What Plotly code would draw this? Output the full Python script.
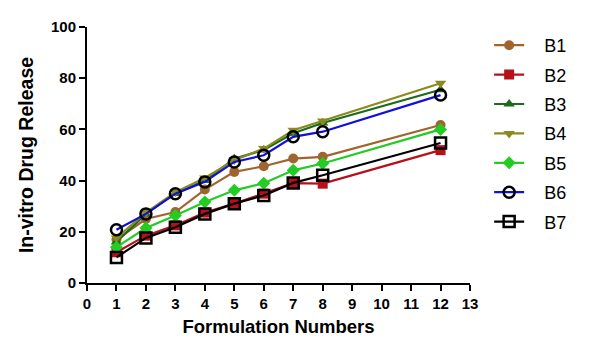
import plotly.graph_objects as go

x = [1, 2, 3, 4, 5, 6, 7, 8, 12]
B1 = [17, 25, 27.7, 36.5, 43.4, 45.6, 48.6, 49.3, 61.7]
B2 = [12, 18.5, 22.5, 27.5, 31, 34.9, 39, 38.8, 51.9]
B3 = [16, 27, 35, 40, 48.5, 52, 58.5, 62.5, 75.5]
B4 = [17.6, 27.5, 35.5, 41, 48, 52.5, 59.7, 63.3, 78]
B5 = [14, 21.5, 26.4, 31.6, 36.2, 39, 44, 46.7, 60]
B6 = [20.8, 27, 34.9, 39.5, 47.3, 49.9, 57.1, 59.1, 73.4]
B7 = [10, 17.6, 21.8, 27, 31, 34.2, 39.1, 42.1, 54.7]

names = ["B1", "B2", "B3", "B4", "B5", "B6", "B7"]
series = [B1, B2, B3, B4, B5, B6, B7]
line_colors = ["#A0652F", "#B81018", "#1C6A1C", "#8A8A1E", "#22CC22", "#1010DD", "#000000"]
symbols = ["circle", "square", "triangle-up", "triangle-down", "diamond", "circle-open", "square-open"]

fig = go.Figure()
for n, s, c, sym in zip(names, series, line_colors, symbols):
    open_m = sym.endswith("open")
    fig.add_trace(go.Scatter(
        x=x, y=s, name="\u00a0\u00a0\u00a0" + n, mode="lines+markers", legendgroup=n,
        line=dict(color=c, width=2.2),
        marker=dict(symbol=sym, size=11 if open_m else 10,
                    color="#000000" if open_m else c,
                    line=dict(color="#000000", width=2.5) if open_m else dict(width=0)),
    ))

fig.update_layout(
    width=600, height=353,
    margin=dict(l=87, r=130, t=27, b=70),
    paper_bgcolor="white", plot_bgcolor="white",
    font=dict(family="Liberation Sans, Arial, sans-serif", color="black"),
    showlegend=True,
    legend=dict(x=1.05, y=1.0, yanchor="top", xanchor="left",
                font=dict(size=18), tracegroupgap=3, itemwidth=30),
    xaxis=dict(range=[0, 13], tickmode="linear", tick0=0, dtick=1,
               showline=True, linecolor="black", linewidth=2,
               ticks="outside", ticklen=6, tickwidth=2, tickcolor="black",
               showgrid=False, zeroline=False,
               tickfont=dict(size=15, family="Liberation Sans, Arial", weight="bold"),
               title=dict(text="<b>Formulation Numbers</b>", font=dict(size=18.5), standoff=9)),
    yaxis=dict(range=[0, 100], tickmode="linear", tick0=0, dtick=20,
               showline=True, linecolor="black", linewidth=2,
               ticks="outside", ticklen=6, tickwidth=2, tickcolor="black",
               showgrid=False, zeroline=False,
               tickfont=dict(size=15, family="Liberation Sans, Arial", weight="bold"),
               title=dict(text="<b>In-vitro Drug Release</b>", font=dict(size=19.5), standoff=12)),
)

fig.write_html("out.html")
